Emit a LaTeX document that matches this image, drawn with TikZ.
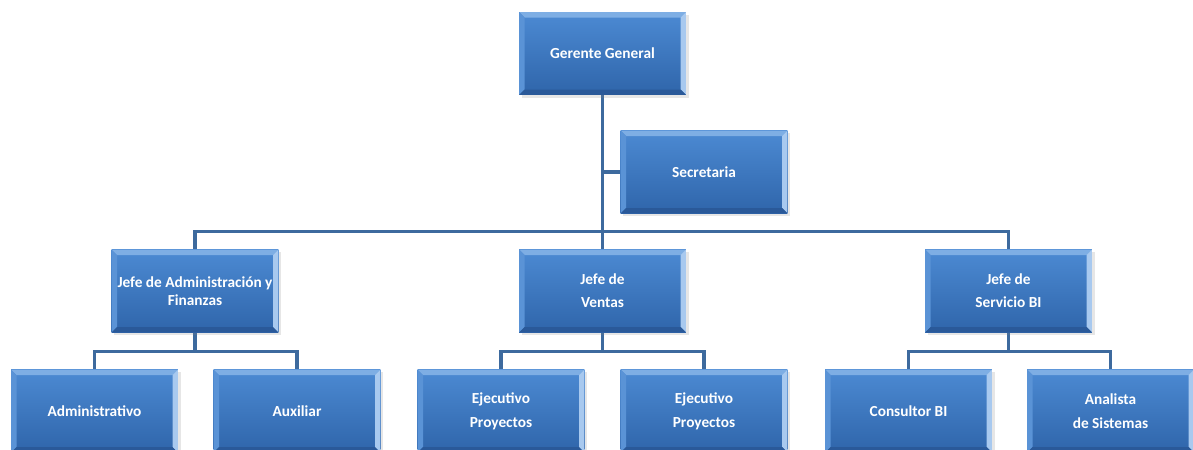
\documentclass[tikz,border=0pt]{standalone}
\usepackage{fontspec}
\setmainfont{Carlito}
\usetikzlibrary{shadows,backgrounds}
\definecolor{boxtop}{HTML}{4C8AD3}
\definecolor{boxbot}{HTML}{2F65AA}
\definecolor{bevtop}{HTML}{7EAEE4}
\definecolor{bevleft}{HTML}{5A93D6}
\definecolor{bevright}{HTML}{A8C9EF}
\definecolor{bevbot}{HTML}{2A5999}
\definecolor{conn}{HTML}{3D6A9E}
\tikzset{
  orgbox/.style={minimum width=125pt, minimum height=62pt, inner sep=0pt,
    text=white, align=center, font=\fontsize{11.5}{13.5}\selectfont\bfseries,
    top color=boxtop, bottom color=boxbot,
    drop shadow={opacity=0.2, shadow xshift=2pt, shadow yshift=-2pt},
    path picture={
      \fill[bevtop] (path picture bounding box.north west) -- (path picture bounding box.north east)
        -- ([shift={(-4pt,-4pt)}]path picture bounding box.north east)
        -- ([shift={(4pt,-4pt)}]path picture bounding box.north west) -- cycle;
      \fill[bevleft] (path picture bounding box.north west) -- ([shift={(4pt,-4pt)}]path picture bounding box.north west)
        -- ([shift={(4pt,4pt)}]path picture bounding box.south west)
        -- (path picture bounding box.south west) -- cycle;
      \fill[bevright] (path picture bounding box.north east) -- ([shift={(-4pt,-4pt)}]path picture bounding box.north east)
        -- ([shift={(-4pt,4pt)}]path picture bounding box.south east)
        -- (path picture bounding box.south east) -- cycle;
      \fill[bevbot] (path picture bounding box.south west) -- ([shift={(4pt,4pt)}]path picture bounding box.south west)
        -- ([shift={(-4pt,4pt)}]path picture bounding box.south east)
        -- (path picture bounding box.south east) -- cycle;
    }},
  link/.style={draw=conn, line width=2.6pt}
}
\begin{document}
\begin{tikzpicture}[x=0.75pt,y=0.75pt]
\useasboundingbox (0,0) rectangle (1193,-450);
\node[orgbox] (gg) at (602.5,-53.5) {Gerente General};
\node[orgbox] (sec) at (704,-172) {Secretaria};
\node[orgbox] (ja) at (195,-291) {Jefe de Administración y\\Finanzas};
\node[orgbox] (jv) at (602.5,-291) {Jefe de\\[3.5pt]Ventas};
\node[orgbox] (jb) at (1008.5,-291) {Jefe de\\[3.5pt]Servicio BI};
\node[orgbox] (adm) at (94.5,-411) {Administrativo};
\node[orgbox] (aux) at (297,-411) {Auxiliar};
\node[orgbox] (ej1) at (501,-411) {Ejecutivo\\[4.5pt]Proyectos};
\node[orgbox] (ej2) at (704,-411) {Ejecutivo\\[4.5pt]Proyectos};
\node[orgbox] (con) at (908.5,-411) {Consultor BI};
\node[orgbox] (ana) at (1110.5,-411) {Analista\\[4.5pt]de Sistemas};
\begin{scope}[on background layer]
\draw[link] (gg.south) -- (jv.north);
\draw[link] (sec.west) -- (sec.west -| gg.south);
\draw[link] (ja.north) |- ([yshift=13.5pt]jv.north) -| (jb.north);
\draw[link] (ja.south) -- ([yshift=-14pt]ja.south);
\draw[link] (adm.north) |- ([yshift=-14pt]ja.south) -| (aux.north);
\draw[link] (jv.south) -- ([yshift=-14pt]jv.south);
\draw[link] (ej1.north) |- ([yshift=-14pt]jv.south) -| (ej2.north);
\draw[link] (jb.south) -- ([yshift=-14pt]jb.south);
\draw[link] (con.north) |- ([yshift=-14pt]jb.south) -| (ana.north);
\end{scope}
\end{tikzpicture}
\end{document}
